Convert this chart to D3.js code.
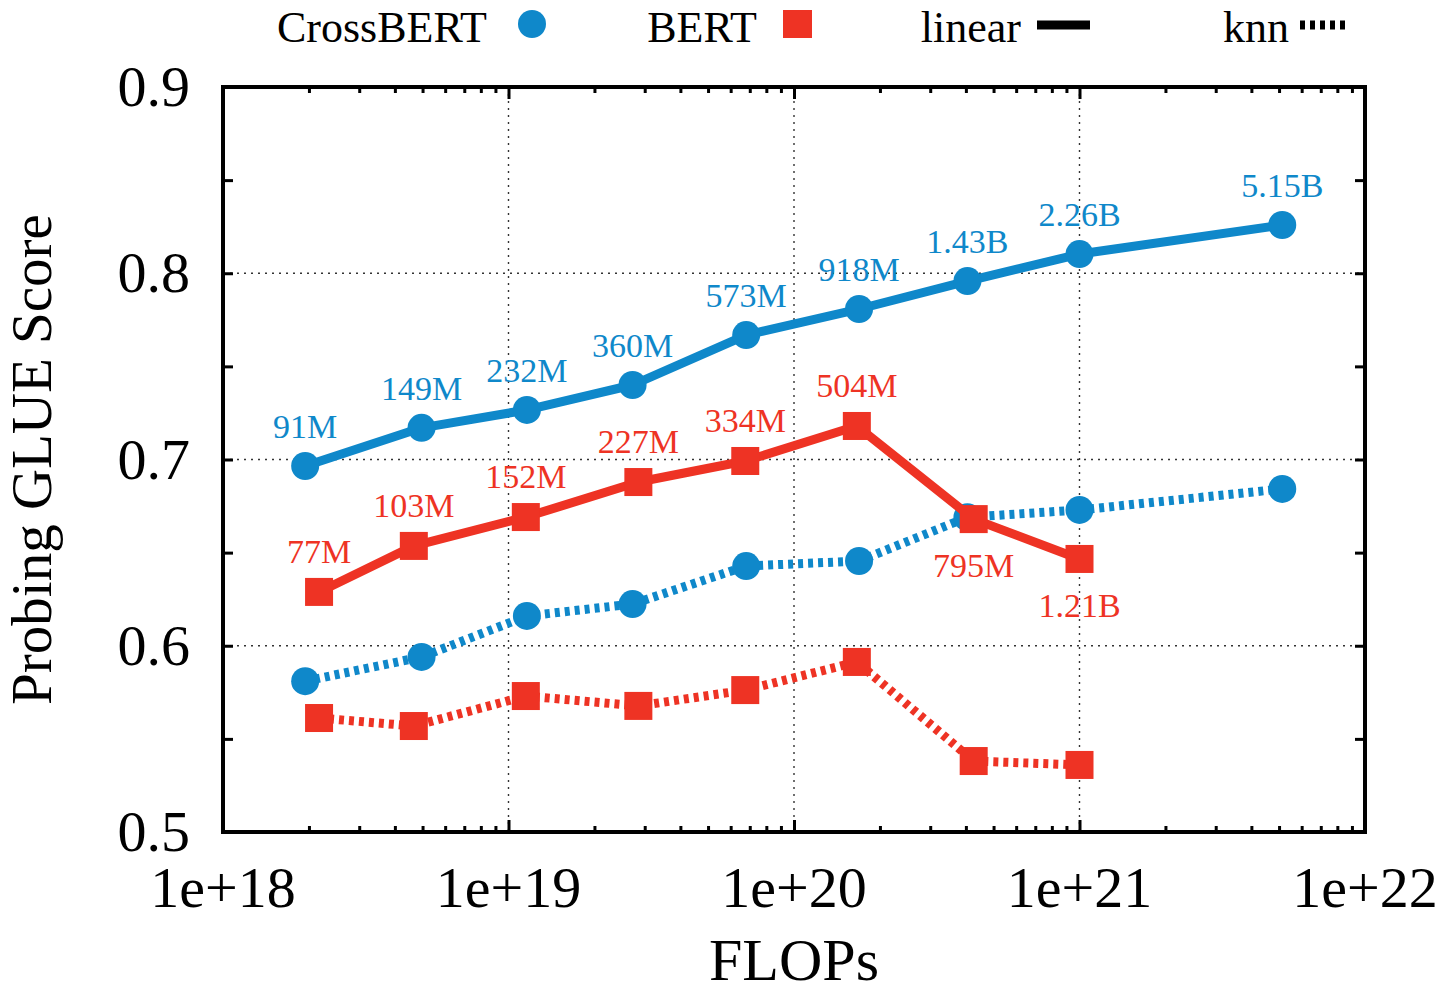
<!DOCTYPE html>
<html>
<head>
<meta charset="utf-8">
<script src="https://cdn.jsdelivr.net/npm/d3@7"></script>
<style>
  body { margin: 0; background: #fff; }
  svg text { font-family: "Liberation Serif", "Times New Roman", serif; }
</style>
</head>
<body>
<div id="container"></div>
<script>
/* CONSTANTS AND GLOBALS */
const width = 1444;
const height = 995;
const margin = { top: 87, right: 79, bottom: 163, left: 223 };
const blue = "#0f88ca";
const red = "#ee3324";
const serif = "Liberation Serif, Times New Roman, serif";

/* DATA */
const crossFlops = [1.94e18, 4.96e18, 1.16e19, 2.72e19, 6.8e19, 1.69e20, 4.05e20, 1.0e21, 5.13e21];
const crossLinear = [0.6965, 0.717, 0.7266, 0.740, 0.7668, 0.7808, 0.7958, 0.8103, 0.8259];
const crossKnn = [0.581, 0.594, 0.616, 0.6224, 0.6428, 0.6455, 0.669, 0.6729, 0.6842];
const crossSizes = ["91M", "149M", "232M", "360M", "573M", "918M", "1.43B", "2.26B", "5.15B"];

const bertFlops = [2.17e18, 4.66e18, 1.15e19, 2.85e19, 6.75e19, 1.66e20, 4.26e20, 1.0e21];
const bertLinear = [0.6289, 0.6536, 0.6691, 0.6879, 0.6992, 0.718, 0.668, 0.6466];
const bertKnn = [0.5612, 0.5569, 0.573, 0.5677, 0.5762, 0.5913, 0.5381, 0.536];
const bertSizes = ["77M", "103M", "152M", "227M", "334M", "504M", "795M", "1.21B"];
const bertBelow = [false, false, false, false, false, false, true, true];

const xTicks = [1e18, 1e19, 1e20, 1e21, 1e22];
const yTicks = [0.5, 0.6, 0.7, 0.8, 0.9];
const yMinor = [0.55, 0.65, 0.75, 0.85];

/* SCALES */
const xScale = d3.scaleLog()
  .domain([1e18, 1e22])
  .range([margin.left, width - margin.right]);

const yScale = d3.scaleLinear()
  .domain([0.5, 0.9])
  .range([height - margin.bottom, margin.top]);

const svg = d3.select("#container")
  .append("svg")
  .attr("width", width)
  .attr("height", height)
  .attr("font-family", serif);

const x0 = margin.left, x1 = width - margin.right;
const y0 = margin.top, y1 = height - margin.bottom;

// grid
const grid = svg.append("g")
  .attr("stroke", "#333")
  .attr("stroke-width", 1.4)
  .attr("stroke-dasharray", "2,5");
grid.selectAll("line.gx")
  .data(xTicks.slice(1, -1))
  .join("line")
  .attr("x1", d => xScale(d)).attr("x2", d => xScale(d))
  .attr("y1", y0).attr("y2", y1);
grid.selectAll("line.gy")
  .data(yTicks.slice(1, -1))
  .join("line")
  .attr("y1", d => yScale(d)).attr("y2", d => yScale(d))
  .attr("x1", x0).attr("x2", x1);

// x ticks, major + minor, bottom and top
const minorX = [];
for (let e = 18; e < 22; e++) {
  for (let m = 2; m <= 9; m++) minorX.push(m * Math.pow(10, e));
}
const xAxisBottom = d3.axisBottom(xScale)
  .tickValues(xTicks).tickSizeInner(-12).tickSizeOuter(0).tickFormat("");
const xAxisTop = d3.axisTop(xScale)
  .tickValues(xTicks).tickSizeInner(-12).tickSizeOuter(0).tickFormat("");
const xMinorBottom = d3.axisBottom(xScale)
  .tickValues(minorX).tickSizeInner(-6).tickSizeOuter(0).tickFormat("");
const xMinorTop = d3.axisTop(xScale)
  .tickValues(minorX).tickSizeInner(-6).tickSizeOuter(0).tickFormat("");
const yAxisLeft = d3.axisLeft(yScale)
  .tickValues(yTicks.concat(yMinor)).tickSizeInner(-10).tickSizeOuter(0).tickFormat("");
const yAxisRight = d3.axisRight(yScale)
  .tickValues(yTicks.concat(yMinor)).tickSizeInner(-10).tickSizeOuter(0).tickFormat("");

[[xAxisBottom, `translate(0,${y1})`], [xMinorBottom, `translate(0,${y1})`],
 [xAxisTop, `translate(0,${y0})`], [xMinorTop, `translate(0,${y0})`],
 [yAxisLeft, `translate(${x0},0)`], [yAxisRight, `translate(${x1},0)`]].forEach(([ax, tr]) => {
  const g = svg.append("g").attr("transform", tr).call(ax);
  g.select(".domain").remove();
  g.selectAll(".tick line").attr("stroke", "#000").attr("stroke-width", 3);
});

// frame
svg.append("rect")
  .attr("x", x0).attr("y", y0)
  .attr("width", x1 - x0).attr("height", y1 - y0)
  .attr("fill", "none")
  .attr("stroke", "#000")
  .attr("stroke-width", 4);

// tick labels
svg.selectAll("text.xtl")
  .data(xTicks)
  .join("text")
  .attr("class", "xtl")
  .attr("x", d => xScale(d))
  .attr("y", y1 + 75)
  .attr("text-anchor", "middle")
  .attr("font-size", 58)
  .text(d => "1e+" + Math.round(Math.log10(d)));

svg.selectAll("text.ytl")
  .data(yTicks)
  .join("text")
  .attr("class", "ytl")
  .attr("x", x0 - 33)
  .attr("y", d => yScale(d) + 19)
  .attr("text-anchor", "end")
  .attr("font-size", 58)
  .text(d => d.toFixed(1));

// axis titles
svg.append("text")
  .attr("x", (x0 + x1) / 2)
  .attr("y", 980)
  .attr("text-anchor", "middle")
  .attr("font-size", 60)
  .text("FLOPs");

svg.append("text")
  .attr("transform", `translate(51,${(y0 + y1) / 2}) rotate(-90)`)
  .attr("text-anchor", "middle")
  .attr("font-size", 57)
  .text("Probing GLUE Score");

/* SERIES */
const line = d3.line()
  .x(d => xScale(d[0]))
  .y(d => yScale(d[1]));

function drawSeries(flops, vals, color, dashed, shape) {
  const pts = flops.map((f, i) => [f, vals[i]]);
  svg.append("path")
    .datum(pts)
    .attr("d", line)
    .attr("fill", "none")
    .attr("stroke", color)
    .attr("stroke-width", 9)
    .attr("stroke-linejoin", "round")
    .attr("stroke-dasharray", dashed ? "5,5" : null);
  const g = svg.append("g").attr("fill", color);
  if (shape === "circle") {
    g.selectAll("circle")
      .data(pts)
      .join("circle")
      .attr("cx", d => xScale(d[0]))
      .attr("cy", d => yScale(d[1]))
      .attr("r", 14);
  } else {
    g.selectAll("rect")
      .data(pts)
      .join("rect")
      .attr("x", d => xScale(d[0]) - 14)
      .attr("y", d => yScale(d[1]) - 14)
      .attr("width", 28)
      .attr("height", 28);
  }
}

drawSeries(crossFlops, crossLinear, blue, false, "circle");
drawSeries(crossFlops, crossKnn, blue, true, "circle");
drawSeries(bertFlops, bertLinear, red, false, "square");
drawSeries(bertFlops, bertKnn, red, true, "square");

// size labels
svg.selectAll("text.clab")
  .data(crossSizes)
  .join("text")
  .attr("class", "clab")
  .attr("x", (d, i) => xScale(crossFlops[i]))
  .attr("y", (d, i) => yScale(crossLinear[i]) - 28)
  .attr("text-anchor", "middle")
  .attr("font-size", 34)
  .attr("fill", blue)
  .text(d => d);

svg.selectAll("text.blab")
  .data(bertSizes)
  .join("text")
  .attr("class", "blab")
  .attr("x", (d, i) => xScale(bertFlops[i]))
  .attr("y", (d, i) => yScale(bertLinear[i]) + (bertBelow[i] ? 58 : -29))
  .attr("text-anchor", "middle")
  .attr("font-size", 34)
  .attr("fill", red)
  .text(d => d);

/* LEGEND */
const legend = svg.append("g")
  .attr("font-size", 44)
  .attr("font-family", serif);
legend.append("text").attr("x", 487).attr("y", 42).attr("text-anchor", "end").text("CrossBERT");
legend.append("circle").attr("cx", 532).attr("cy", 24).attr("r", 14).attr("fill", blue);
legend.append("text").attr("x", 757).attr("y", 42).attr("text-anchor", "end").text("BERT");
legend.append("rect").attr("x", 783).attr("y", 10).attr("width", 29).attr("height", 28).attr("fill", red);
legend.append("text").attr("x", 1021).attr("y", 42).attr("text-anchor", "end").text("linear");
legend.append("line").attr("x1", 1037).attr("x2", 1090).attr("y1", 25).attr("y2", 25)
  .attr("stroke", "#000").attr("stroke-width", 9);
legend.append("text").attr("x", 1289).attr("y", 42).attr("text-anchor", "end").text("knn");
legend.append("line").attr("x1", 1300).attr("x2", 1350).attr("y1", 25).attr("y2", 25)
  .attr("stroke", "#000").attr("stroke-width", 9).attr("stroke-dasharray", "5,5");
</script>
</body>
</html>
